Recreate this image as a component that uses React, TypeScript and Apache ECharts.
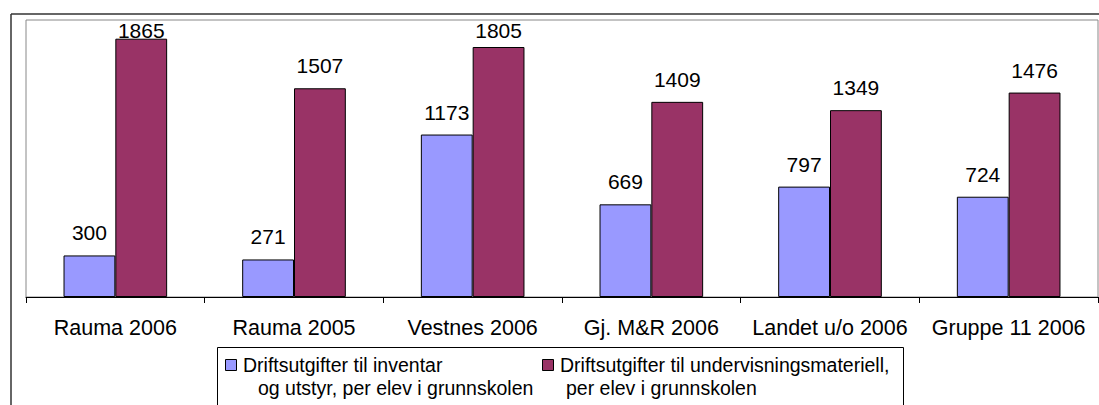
import React, { useEffect, useRef } from "react";
import * as echarts from "echarts";

const categories = [
  "Rauma 2006",
  "Rauma 2005",
  "Vestnes 2006",
  "Gj. M&R 2006",
  "Landet u/o 2006",
  "Gruppe 11 2006",
];
const inventarValues = [300, 271, 1173, 669, 797, 724];
const materiellValues = [1865, 1507, 1805, 1409, 1349, 1476];
const seriesNames = [
  "Driftsutgifter til inventar og utstyr, per elev i grunnskolen",
  "Driftsutgifter til undervisningsmateriell, per elev i grunnskolen",
];
const legendLines = [
  ["Driftsutgifter til inventar", "og utstyr, per elev i grunnskolen"],
  ["Driftsutgifter til undervisningsmateriell,", "per elev i grunnskolen"],
];

const FONT = "'Liberation Sans', Arial, sans-serif";
const COLORS = ["#9999FF", "#993366"];

export default function App() {
  const ref = useRef<HTMLDivElement>(null);
  useEffect(() => {
    document.body.style.margin = "0";
    const chart = echarts.init(ref.current!, null, { renderer: "svg" });
    const valueSets = [inventarValues, materiellValues];
    const buildSeries = (distances?: number[][]) =>
      valueSets.map((vals, s) => ({
        type: "bar",
        name: seriesNames[s],
        barGap: "0%",
        barCategoryGap: "42%",
        itemStyle: { color: COLORS[s], borderColor: "#000", borderWidth: 1 },
        label: {
          show: true,
          position: "top",
          distance: 12,
          color: "#000",
          fontSize: 21,
          fontFamily: FONT,
        },
        data: vals.map((v, i) =>
          distances ? { value: v, label: { distance: distances[s][i] } } : v
        ),
      }));

    const legendItems = [
      { iconX: 225.5, textX: 243, line2X: 258 },
      { iconX: 542.5, textX: 560, line2X: 566 },
    ];
    const legendGraphics: any[] = [
      {
        type: "rect",
        shape: { x: 217.5, y: 347.5, width: 686, height: 80 },
        style: { fill: "#fff", stroke: "#000", lineWidth: 1 },
        silent: true,
      },
    ];
    legendItems.forEach((it, s) => {
      legendGraphics.push({
        type: "rect",
        shape: { x: it.iconX, y: 359.5, width: 11, height: 11 },
        style: { fill: COLORS[s], stroke: "#000", lineWidth: 1 },
        silent: true,
      });
      legendGraphics.push({
        type: "text",
        x: it.textX,
        y: 365,
        style: {
          text: legendLines[s][0],
          fill: "#000",
          fontSize: 19.5,
          fontFamily: FONT,
          verticalAlign: "middle",
          align: "left",
        },
        silent: true,
      });
      legendGraphics.push({
        type: "text",
        x: it.line2X,
        y: 388,
        style: {
          text: legendLines[s][1],
          fill: "#000",
          fontSize: 19.5,
          fontFamily: FONT,
          verticalAlign: "middle",
          align: "left",
        },
        silent: true,
      });
    });

    const option: any = {
      animation: false,
      backgroundColor: "#fff",
      grid: {
        left: 26,
        right: 1,
        top: 20,
        bottom: 108,
        show: true,
        borderColor: "#888",
        borderWidth: 1,
        containLabel: false,
      },
      xAxis: {
        type: "category",
        data: categories,
        axisLine: { lineStyle: { color: "#000", width: 1 } },
        axisTick: { show: true, length: 6, lineStyle: { color: "#000" } },
        axisLabel: {
          color: "#000",
          fontSize: 21.5,
          fontFamily: FONT,
          margin: 20,
          interval: 0,
        },
      },
      yAxis: {
        type: "value",
        min: 0,
        max: 2000,
        show: false,
        splitLine: { show: false },
      },
      graphic: [
        {
          type: "line",
          shape: { x1: 11, y1: 14, x2: 1099, y2: 14 },
          style: { stroke: "#333", lineWidth: 1.5 },
          silent: true,
        },
        {
          type: "line",
          shape: { x1: 11, y1: 14, x2: 11, y2: 405 },
          style: { stroke: "#333", lineWidth: 1.5 },
          silent: true,
        },
        ...legendGraphics,
      ],
      series: buildSeries(),
    };
    chart.setOption(option);
    const distances = valueSets.map((vals) =>
      vals.map((v, i) => {
        const p = chart.convertToPixel({ gridIndex: 0 } as any, [i, v]) as number[];
        return Math.min(12, p[1] - 41);
      })
    );
    chart.setOption({ series: buildSeries(distances) });
    return () => chart.dispose();
  }, []);
  return <div ref={ref} style={{ width: 1099, height: 405 }} />;
}
